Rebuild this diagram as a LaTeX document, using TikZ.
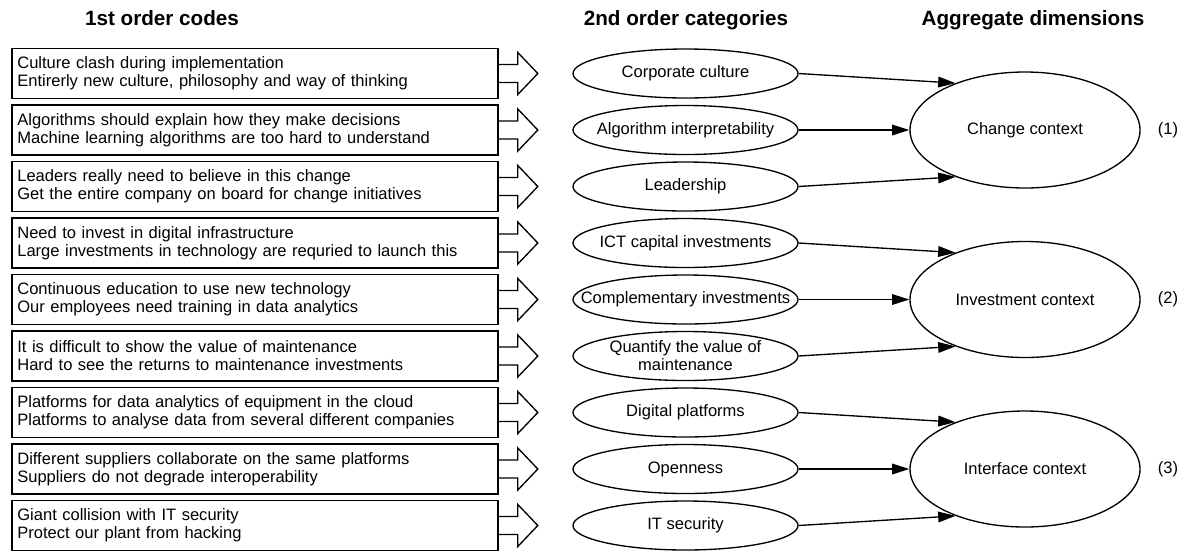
\documentclass[tikz,border=0pt]{standalone}
\usepackage{fontspec}
\setmainfont{Liberation Sans}
\usetikzlibrary{shapes.geometric,arrows.meta,calc}

\begin{document}
\begin{tikzpicture}[x=0.75pt,y=-0.75pt,
    font=\fontsize{12.4}{13.5}\selectfont,
    header/.style={font=\fontsize{15.5}{17}\selectfont\bfseries,anchor=base},
    codebox/.style={draw,line width=1.2pt,minimum height=37.5pt,text width=356.5pt,
        inner xsep=4pt,inner ysep=0pt,align=left},
    category/.style={draw,ellipse,line width=1pt,minimum width=168.75pt,minimum height=36.75pt,
        inner xsep=-20pt,inner ysep=-4pt,align=center},
    dimension/.style={draw,ellipse,line width=1pt,minimum width=172.5pt,minimum height=87pt,
        inner sep=0pt},
    blockarrow/.style={line width=1pt,line join=miter},
    link/.style={line width=1pt,-{Triangle[length=13pt,width=8pt]}}]
       \useasboundingbox(0,0)rectangle(1177,551);%画像の大きさ

       \node[header](h1)at(162,25){1st order codes};%見出し
       \node[header](h2)at(686,25){2nd order categories};
       \node[header](h3)at(1033,25){Aggregate dimensions};

       \foreach \i/\a/\b/\k in{
           1/{Culture clash during implementation}/{Entirerly new culture, philosophy and way of thinking}/{Corporate culture},
           2/{Algorithms should explain how they make decisions}/{Machine learning algorithms are too hard to understand}/{Algorithm interpretability},
           3/{Leaders really need to believe in this change}/{Get the entire company on board for change initiatives}/{Leadership},
           4/{Need to invest in digital infrastructure}/{Large investments in technology are requried to launch this}/{ICT capital investments},
           5/{Continuous education to use new technology}/{Our employees need training in data analytics}/{Complementary investments},
           6/{It is difficult to show the value of maintenance}/{Hard to see the returns to maintenance investments}/{Quantify the value of\\maintenance},
           7/{Platforms for data analytics of equipment in the cloud}/{Platforms to analyse data from several different companies}/{Digital platforms},
           8/{Different suppliers collaborate on the same platforms}/{Suppliers do not degrade interoperability}/{Openness},
           9/{Giant collision with IT security}/{Protect our plant from hacking}/{IT security}}
       {
           \node[codebox](c\i)at(255,{73.5+56.5*(\i-1)}){\a\\\b};%1次コード
           \node[category](k\i)at(685.5,{73.5+56.5*(\i-1)}){\k};%2次カテゴリ
           \draw[blockarrow]($(c\i.east)+(0,-9)$)--++(19,0)--++(0,-12)
               --($(c\i.east)+(39,0)$)--($(c\i.east)+(19,21)$)--++(0,-12)
               --($(c\i.east)+(0,9)$);%白抜き矢印
       }

       \foreach \j/\d in{1/Change context,2/Investment context,3/Interface context}
       {
           \node[dimension](d\j)at(1025,{130+169.5*(\j-1)}){\d};%集約次元
           \node(n\j)at(1168,{130+169.5*(\j-1)}){(\j)};
       }

       \foreach \j in{1,2,3}
       {
           \pgfmathtruncatemacro{\ka}{3*\j-2}
           \pgfmathtruncatemacro{\kb}{3*\j-1}
           \pgfmathtruncatemacro{\kc}{3*\j}
           \draw[link](k\ka.east)--(d\j.146);%カテゴリ→次元
           \draw[link](k\kb.east)--(d\j.west);
           \draw[link](k\kc.east)--(d\j.214);
       }
\end{tikzpicture}
\end{document}
